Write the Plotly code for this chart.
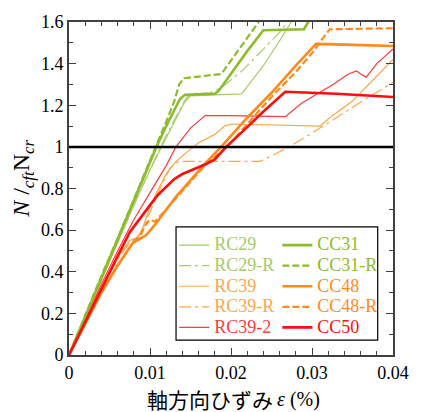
import plotly.graph_objects as go

# ---------------- data (strain %, N/cftNcr) ----------------
rc29_x = [0, 0.002, 0.004, 0.006, 0.008, 0.010, 0.0114, 0.013, 0.0142, 0.015, 0.018, 0.0213, 0.022, 0.024, 0.026, 0.0276]
rc29_y = [0, 0.18, 0.36, 0.54, 0.72, 0.89, 1.0, 1.12, 1.21, 1.245, 1.25, 1.255, 1.29, 1.39, 1.51, 1.61]

rc29r_x = [0, 0.002, 0.004, 0.006, 0.008, 0.010, 0.0113, 0.013, 0.0145, 0.015, 0.0175, 0.019, 0.0215, 0.024, 0.026, 0.0272]
rc29r_y = [0, 0.18, 0.36, 0.54, 0.72, 0.89, 1.0, 1.13, 1.235, 1.255, 1.26, 1.29, 1.37, 1.47, 1.55, 1.61]

cc31_x = [0, 0.002, 0.004, 0.0064, 0.008, 0.010, 0.0108, 0.012, 0.013, 0.0137, 0.0143, 0.018, 0.0185, 0.020, 0.022, 0.024, 0.029, 0.0297]
cc31_y = [0, 0.185, 0.37, 0.59, 0.74, 0.925, 1.0, 1.10, 1.18, 1.23, 1.25, 1.255, 1.27, 1.35, 1.46, 1.56, 1.565, 1.61]

cc31r_x = [0, 0.002, 0.004, 0.006, 0.008, 0.010, 0.0107, 0.012, 0.013, 0.0136, 0.0142, 0.0188, 0.021, 0.0236]
cc31r_y = [0, 0.19, 0.38, 0.56, 0.75, 0.94, 1.0, 1.12, 1.22, 1.30, 1.33, 1.35, 1.47, 1.61]

rc39_x = [0, 0.002, 0.004, 0.006, 0.0075, 0.0085, 0.009, 0.0099, 0.0108, 0.012, 0.0132, 0.0144, 0.016, 0.018, 0.0192, 0.020, 0.025, 0.031, 0.0325, 0.035, 0.0375, 0.040]
rc39_y = [0, 0.16, 0.32, 0.47, 0.55, 0.565, 0.60, 0.70, 0.78, 0.87, 0.93, 0.97, 1.02, 1.06, 1.10, 1.11, 1.105, 1.10, 1.15, 1.22, 1.32, 1.42]

rc39r_x = [0, 0.002, 0.004, 0.006, 0.0075, 0.0083, 0.009, 0.0097, 0.011, 0.0125, 0.0135, 0.0236, 0.0272, 0.0314, 0.0358, 0.040]
rc39r_y = [0, 0.16, 0.32, 0.46, 0.54, 0.57, 0.58, 0.66, 0.78, 0.90, 0.93, 0.93, 1.0, 1.10, 1.21, 1.31]

cc48_x = [0, 0.002, 0.004, 0.006, 0.0072, 0.0079, 0.0086, 0.0095, 0.0105, 0.012, 0.0132, 0.0168, 0.019, 0.022, 0.025, 0.028, 0.0305, 0.035, 0.040]
cc48_y = [0, 0.15, 0.30, 0.43, 0.50, 0.54, 0.555, 0.575, 0.62, 0.70, 0.76, 0.92, 1.01, 1.14, 1.26, 1.39, 1.495, 1.49, 1.485]

cc48r_x = [0, 0.002, 0.004, 0.006, 0.0072, 0.0079, 0.0088, 0.0095, 0.010, 0.0106, 0.012, 0.014, 0.017, 0.0195, 0.022, 0.025, 0.028, 0.0302, 0.0313, 0.0322, 0.040]
cc48r_y = [0, 0.15, 0.30, 0.43, 0.50, 0.54, 0.58, 0.63, 0.65, 0.64, 0.70, 0.79, 0.92, 1.0, 1.11, 1.24, 1.36, 1.46, 1.52, 1.565, 1.57]

rc392_x = [0, 0.002, 0.004, 0.006, 0.0069, 0.008, 0.010, 0.012, 0.0132, 0.015, 0.0168, 0.020, 0.0267, 0.0287, 0.0326, 0.0345, 0.0355, 0.036, 0.0367, 0.038, 0.040]
rc392_y = [0, 0.17, 0.34, 0.50, 0.57, 0.65, 0.78, 0.91, 1.0, 1.09, 1.15, 1.15, 1.145, 1.21, 1.30, 1.35, 1.365, 1.35, 1.335, 1.40, 1.47]

cc50_x = [0, 0.002, 0.004, 0.006, 0.0075, 0.009, 0.010, 0.011, 0.012, 0.013, 0.014, 0.0156, 0.0168, 0.018, 0.0194, 0.022, 0.024, 0.0267, 0.033, 0.040]
cc50_y = [0, 0.16, 0.32, 0.475, 0.59, 0.67, 0.72, 0.77, 0.81, 0.845, 0.87, 0.895, 0.915, 0.94, 1.0, 1.095, 1.17, 1.265, 1.255, 1.24]

ref_level = 1.0
x_ticks = [0, 0.01, 0.02, 0.03, 0.04]
x_ticklabels = ["0", "0.01", "0.02", "0.03", "0.04"]
y_ticks = [0, 0.2, 0.4, 0.6, 0.8, 1.0, 1.2, 1.4, 1.6]
y_ticklabels = ["0", "0.2", "0.4", "0.6", "0.8", "1", "1.2", "1.4", "1.6"]

# ---------------- styles ----------------
G_LIGHT, G_DARK = "#a5cc66", "#8cbc2a"
O_LIGHT, O_DARK = "#ffa64a", "#ff8a1c"
R_LIGHT, R_DARK = "#ff3b3b", "#ff0d0d"
THIN, THICK = 1.2, 2.6
DASHDOT = "12px,4px,3px,4px"
DASH = "7px,3px"
SERIF = "Liberation Serif"

series = [
    ("RC29", rc29_x, rc29_y, G_LIGHT, THIN, "solid", "legend"),
    ("RC29-R", rc29r_x, rc29r_y, G_LIGHT, THIN, DASHDOT, "legend"),
    ("RC39", rc39_x, rc39_y, O_LIGHT, THIN, "solid", "legend"),
    ("RC39-R", rc39r_x, rc39r_y, O_LIGHT, THIN, DASHDOT, "legend"),
    ("RC39-2", rc392_x, rc392_y, R_LIGHT, THIN, "solid", "legend"),
    ("CC31", cc31_x, cc31_y, G_DARK, THICK, "solid", "legend2"),
    ("CC31-R", cc31r_x, cc31r_y, G_DARK, THICK - 0.4, DASH, "legend2"),
    ("CC48", cc48_x, cc48_y, O_DARK, THICK, "solid", "legend2"),
    ("CC48-R", cc48r_x, cc48r_y, O_DARK, THICK - 0.4, DASH, "legend2"),
    ("CC50", cc50_x, cc50_y, R_DARK, THICK, "solid", "legend2"),
]

fig = go.Figure()
for name, xs, ys, col, w, dash, lg in series:
    fig.add_trace(go.Scatter(
        x=xs, y=ys, mode="lines",
        name=f"<span style=\"color:{col};font-size:18px;font-family:'Liberation Serif',serif\">{name}</span>",
        line=dict(color=col, width=w, dash=dash),
        legend=lg,
    ))

fig.add_hline(y=ref_level, line=dict(color="black", width=2.5), layer="above")

L, R, T, B = 69, 13, 17, 57
W, H = 421, 412
pw, ph = W - L - R, H - T - B

def px(xp):
    return (xp - L) / pw

def py(yp):
    return (H - B - yp) / ph

# legend frame
fig.add_shape(type="rect", xref="paper", yref="paper",
              x0=px(181), x1=px(392), y0=py(340), y1=py(225),
              line=dict(color="black", width=1.2), fillcolor="white", layer="above")

axis_common = dict(
    showgrid=False, zeroline=False, showline=True, linecolor="#404040", linewidth=2,
    mirror="allticks", ticks="inside", ticklen=7, tickwidth=1.2, tickcolor="#404040",
    tickfont=dict(family=SERIF, size=18, color="black"),
)

fig.update_xaxes(range=[0, 0.04], tickvals=x_ticks, ticktext=x_ticklabels, ticklabeloverflow="allow",
                 minor=dict(dtick=0.002, ticks="inside", ticklen=4, tickcolor="#404040", tickwidth=1.2, showgrid=False),
                 **axis_common)
fig.update_yaxes(range=[0, 1.6], tickvals=y_ticks, ticktext=y_ticklabels,
                 minor=dict(dtick=0.1, ticks="inside", ticklen=4, tickcolor="#404040", tickwidth=1.2, showgrid=False),
                 **axis_common)

leg_common = dict(bgcolor="rgba(0,0,0,0)", borderwidth=0, itemwidth=30,
                  font=dict(family=SERIF, size=13.5), yanchor="top", xanchor="left",
                  tracegroupgap=0, itemclick=False)
fig.update_layout(
    width=W, height=H,
    margin=dict(l=L, r=R, t=T, b=B),
    font=dict(family=SERIF, color="black"),
    paper_bgcolor="white", plot_bgcolor="white",
    showlegend=True,
    legend=dict(x=px(179), y=py(228), **leg_common),
    legend2=dict(x=px(287), y=py(228), **leg_common),
    annotations=[
        dict(text='軸方向ひずみ',
             xref="paper", yref="paper", x=px(285), y=py(400), xanchor="right", yanchor="middle",
             showarrow=False, font=dict(family="Noto Sans CJK JP", size=21, color="black")),
        dict(text='<i>ε</i> (%)',
             xref="paper", yref="paper", x=px(285), y=py(400), xanchor="left", yanchor="middle",
             showarrow=False, font=dict(family=SERIF, size=20, color="black")),
        dict(text="<i>N</i> /<sub><i>cft</i></sub>N<sub><i>cr</i></sub>",
             xref="paper", yref="paper", x=px(20), y=py(176), xanchor="center", yanchor="middle",
             textangle=-90, showarrow=False, font=dict(family=SERIF, size=24, color="black")),
    ],
)

fig.write_html("out.html")
